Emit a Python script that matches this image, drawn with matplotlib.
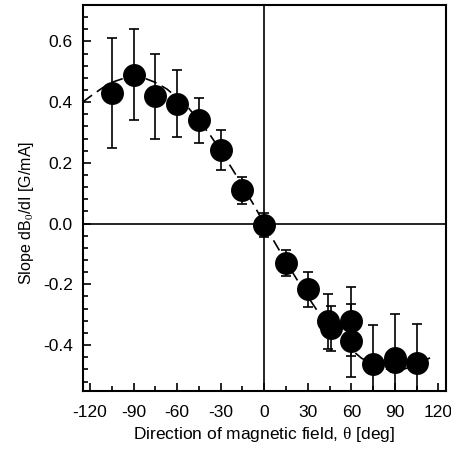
import matplotlib
matplotlib.use('Agg')
import matplotlib.pyplot as plt
from matplotlib.ticker import MultipleLocator, FormatStrFormatter

plt.rcParams['font.family'] = 'Liberation Sans'
plt.rcParams['mathtext.fontset'] = 'custom'
plt.rcParams['mathtext.rm'] = 'Liberation Serif'
plt.rcParams['mathtext.it'] = 'Liberation Sans:italic'
plt.rcParams['axes.unicode_minus'] = False

# measured slopes vs field direction
theta = [-105, -90, -75, -60, -45, -30, -15, 0, 15, 30, 44, 46, 60, 60, 75, 90, 90, 105]
slope = [0.43, 0.49, 0.42, 0.395, 0.34, 0.243, 0.11, -0.005, -0.129, -0.216,
         -0.322, -0.345, -0.322, -0.385, -0.463, -0.441, -0.455, -0.46]
err = [0.18, 0.15, 0.14, 0.11, 0.075, 0.065, 0.045, 0.04, 0.043, 0.058,
       0.09, 0.075, 0.113, 0.12, 0.128, 0.143, 0.033, 0.128]

# dashed guide curve
fit_theta = [-125, -120, -112, -105, -97, -90, -82, -75, -67, -60, -52, -45, -37, -30,
             -22, -15, -7, 0, 7, 15, 22, 30, 37, 45, 52, 60, 67, 75, 82, 90, 97, 105, 115]
fit_slope = [0.40, 0.418, 0.445, 0.465, 0.478, 0.483, 0.478, 0.465, 0.443, 0.415,
             0.38, 0.34, 0.29, 0.24, 0.18, 0.125, 0.06, 0.0, -0.06, -0.125, -0.18,
             -0.24, -0.29, -0.34, -0.38, -0.415, -0.443, -0.465, -0.478, -0.483,
             -0.478, -0.465, -0.44]

fig = plt.figure(figsize=(4.52, 4.49), dpi=100)
ax = fig.add_axes([0.183, 0.130, 0.803, 0.859])

ax.axhline(0, color='k', lw=1.2, zorder=1)
ax.axvline(0, color='k', lw=1.2, zorder=1)
ax.plot(fit_theta, fit_slope, color='k', lw=1.2, dashes=(7, 3.5), zorder=2)
ax.errorbar(theta, slope, yerr=err, fmt='o', color='k', ms=15.5, elinewidth=1.2,
            capsize=3.5, capthick=1.2, zorder=3)

ax.set_xlim(-125, 125)
ax.set_ylim(-0.55, 0.72)
ax.xaxis.set_major_locator(MultipleLocator(30))
ax.xaxis.set_minor_locator(MultipleLocator(15))
ax.yaxis.set_major_locator(MultipleLocator(0.2))
ax.yaxis.set_minor_locator(MultipleLocator(0.04))
ax.yaxis.set_major_formatter(FormatStrFormatter('%.1f'))
ax.tick_params(which='both', direction='in', top=False, right=False, labelsize=12.5, width=1.2)
ax.tick_params(which='major', length=6)
ax.tick_params(which='minor', length=3.5)
ax.tick_params(axis='x', pad=10)
ax.tick_params(axis='y', pad=7)
for s in ax.spines.values():
    s.set_linewidth(1.5)

ax.set_xlabel(r'Direction of magnetic field, $\mathrm{\theta}$ [deg]', fontsize=12.5, labelpad=4)
ax.set_ylabel(r'Slope dB$_{\mathit{0}}$/dI [G/mA]', fontsize=11.5)
ax.yaxis.set_label_coords(-0.13, 0.46)

fig.savefig('out.png', dpi=100)
